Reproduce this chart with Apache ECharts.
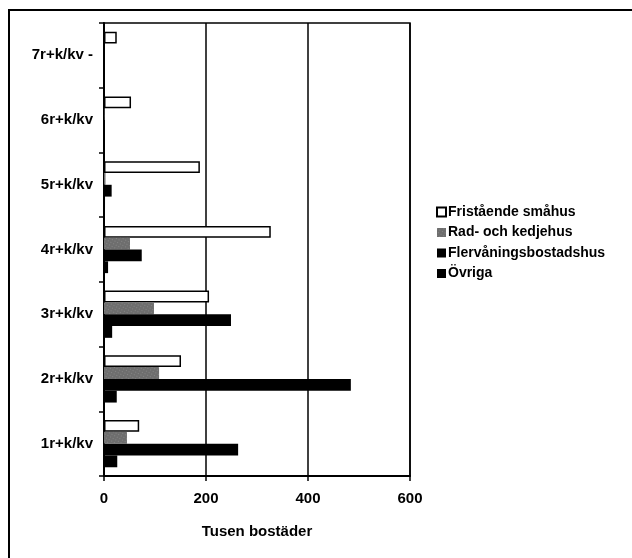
<!DOCTYPE html>
<html>
<head>
<meta charset="utf-8">
<script src="https://cdn.jsdelivr.net/npm/echarts@6/dist/echarts.min.js"></script>
<style>html,body{margin:0;padding:0;background:#fff}#c{width:632px;height:558px}</style>
</head>
<body>
<div id="c"></div>
<script>
// Categories listed from top to bottom
var categories = ['7r+k/kv -', '6r+k/kv', '5r+k/kv', '4r+k/kv', '3r+k/kv', '2r+k/kv', '1r+k/kv'];
var seriesNames = ['Fristående småhus', 'Rad- och kedjehus', 'Flervåningsbostadshus', 'Övriga'];
var fristaende = [25, 53, 188, 327, 206, 151, 69];
var radKedje = [0, 1, 3, 51, 98, 108, 45];
var flervaning = [0, 0, 15, 74, 249, 484, 263];
var ovriga = [0, 0, 2, 8, 16, 25, 26];
var xTicks = [0, 200, 400, 600];

var font = '"Liberation Sans", Arial, sans-serif';
var chart = echarts.init(document.getElementById('c'), null, {renderer: 'canvas'});
chart.setOption({
  animation: false,
  backgroundColor: '#fff',
  graphic: [
    {type: 'line', shape: {x1: 8, y1: 10, x2: 632, y2: 10}, style: {stroke: '#000', lineWidth: 2}},
    {type: 'line', shape: {x1: 9, y1: 10, x2: 9, y2: 558}, style: {stroke: '#000', lineWidth: 2}}
  ],
  grid: {left: 104, top: 23, right: 222, bottom: 82, show: true, borderColor: '#000', borderWidth: 1.5, backgroundColor: 'transparent'},
  legend: {
    orient: 'vertical', left: 431, top: 200,
    itemWidth: 9, itemHeight: 9, itemGap: 6.5,
    icon: 'rect',
    data: seriesNames,
    textStyle: {fontFamily: font, fontWeight: 'bold', fontSize: 14, color: '#000', padding: [0, 0, 0, -3]}
  },
  xAxis: {
    type: 'value', min: xTicks[0], max: xTicks[xTicks.length - 1], interval: 200,
    name: 'Tusen bostäder', nameLocation: 'middle', nameGap: 48,
    nameTextStyle: {fontFamily: font, fontWeight: 'bold', fontSize: 15, color: '#000'},
    axisLine: {show: true, lineStyle: {color: '#000', width: 2}},
    axisTick: {show: true, length: 5, lineStyle: {color: '#000', width: 1.5}},
    axisLabel: {fontFamily: font, fontWeight: 'bold', fontSize: 15, color: '#000', margin: 15},
    splitLine: {show: true, lineStyle: {color: '#000', width: 1.5}}
  },
  yAxis: {
    type: 'category', inverse: true, data: categories,
    axisLine: {show: true, lineStyle: {color: '#000', width: 2}},
    axisTick: {show: true, length: 5, lineStyle: {color: '#000', width: 1.5}},
    axisLabel: {fontFamily: font, fontWeight: 'bold', fontSize: 15, color: '#000', margin: 11},
    splitLine: {show: false}
  },
  series: [
    {name: seriesNames[0], type: 'bar', data: fristaende, barGap: '0%', barCategoryGap: '27%',
     itemStyle: {color: '#fff', borderColor: '#000', borderWidth: 1.5}},
    {name: seriesNames[1], type: 'bar', data: radKedje,
     itemStyle: {color: '#6e6e6e', decal: {symbol: 'rect', symbolSize: 0.6, color: 'rgba(255,255,255,0.55)', dashArrayX: [1, 2], dashArrayY: [1, 2], rotation: 0.5}}},
    {name: seriesNames[2], type: 'bar', data: flervaning, itemStyle: {color: '#000'}},
    {name: seriesNames[3], type: 'bar', data: ovriga, itemStyle: {color: '#000'}}
  ]
});
</script>
</body>
</html>
